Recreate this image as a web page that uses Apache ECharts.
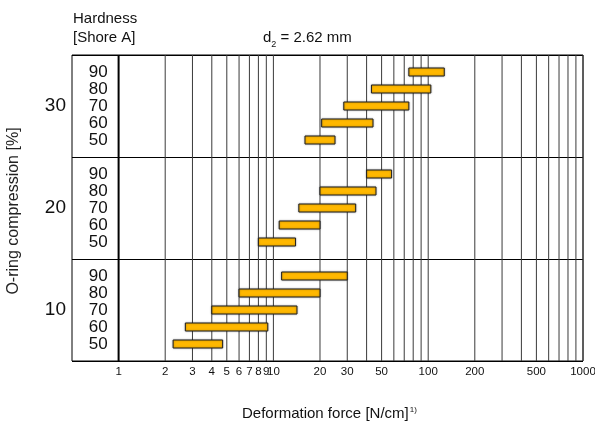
<!DOCTYPE html>
<html>
<head>
<meta charset="utf-8">
<script src="https://cdn.jsdelivr.net/npm/echarts@6/dist/echarts.min.js"></script>
<style>
  html, body { margin: 0; padding: 0; background: #fff; }
  #chart { width: 595px; height: 422px; }
</style>
</head>
<body>
<div id="chart"></div>
<script>
// O-ring compression bands (bottom to top) and hardness rows (bottom to top)
var compression = [10, 20, 30];
var hardness = [50, 60, 70, 80, 90];

// deformation force ranges [N/cm], one entry per hardness 50..90
var force10Lo = [2.25, 2.7, 4.0, 6.0, 11.3];
var force10Hi = [4.7, 9.2, 14.2, 20, 30];
var force20Lo = [8.0, 10.9, 14.6, 20, 40];
var force20Hi = [13.9, 20, 34, 46, 58];
var force30Lo = [16, 20.5, 28.5, 43, 75];
var force30Hi = [25, 44, 75, 104, 127];

// log grid lines and the ones that carry a label
var gridValues = [1, 2, 3, 4, 5, 6, 7, 8, 9, 10, 20, 30, 40, 50, 60, 70, 80, 90, 100,
    200, 300, 400, 500, 600, 700, 800, 900, 1000];
var tickLabels = [1, 2, 3, 4, 5, 6, 7, 8, 9, 10, 20, 30, 50, 100, 200, 500, 1000];

var FONT = '"Liberation Sans", Arial, Helvetica, sans-serif';
var ROWS = 6; // each band: 5 hardness rows + spacing

var lows = [force10Lo, force20Lo, force30Lo];
var highs = [force10Hi, force20Hi, force30Hi];

// bars: [lo, hi, yPos]
var barData = [];
var rowLabelData = [];
for (var b = 0; b < compression.length; b++) {
    for (var h = 0; h < hardness.length; h++) {
        var yPos = b * ROWS + h + 1;
        barData.push([lows[b][h], highs[b][h], yPos]);
        rowLabelData.push([1, yPos, hardness[h]]);
    }
}

var chart = echarts.init(document.getElementById('chart'));

var option = {
    animation: false,
    textStyle: { fontFamily: FONT },
    grid: {
        left: 72, right: 12, top: 55, bottom: 61,
        show: true, borderColor: '#000', borderWidth: 1, backgroundColor: 'transparent'
    },
    xAxis: {
        type: 'log',
        min: 0.5,
        max: 1000,
        axisLine: { show: false },
        axisTick: { show: false },
        axisLabel: { show: false },
        splitLine: { show: false }
    },
    yAxis: {
        type: 'value',
        min: 0,
        max: compression.length * ROWS,
        interval: ROWS,
        axisLine: { show: false },
        axisTick: { show: false },
        splitLine: { show: true, lineStyle: { color: '#000', width: 1 } },
        axisLabel: {
            customValues: compression.map(function (c, i) { return i * ROWS + ROWS / 2; }),
            formatter: function (v) { return compression[Math.floor(v / ROWS)]; },
            fontSize: 19, color: '#111', margin: 6, fontFamily: FONT
        }
    },
    graphic: [
        {
            type: 'text', left: 73, top: 11,
            style: { text: 'Hardness', font: '15px ' + FONT, fill: '#111' }
        },
        {
            type: 'text', left: 73, top: 30,
            style: { text: '[Shore A]', font: '15px ' + FONT, fill: '#111' }
        },
        {
            type: 'text', left: 263, top: 30,
            style: {
                text: '{n|d}{s|2}{n| = 2.62 mm}',
                fill: '#111',
                rich: {
                    n: { fontSize: 15, fontFamily: FONT, fill: '#111', verticalAlign: 'bottom' },
                    s: { fontSize: 9, fontFamily: FONT, fill: '#111', verticalAlign: 'bottom', padding: [0, 0, -4, 0] }
                }
            }
        },
        {
            type: 'text', x: 14, y: 211, rotation: Math.PI / 2,
            style: {
                text: 'O-ring compression [%]', font: '16px ' + FONT, fill: '#222',
                align: 'center', verticalAlign: 'middle'
            }
        },
        {
            type: 'text', left: 242, top: 406,
            style: {
                text: '{n|Deformation force [N/cm]}{s|1)}',
                rich: {
                    n: { fontSize: 15, fontFamily: FONT, fill: '#111', verticalAlign: 'bottom' },
                    s: { fontSize: 8, fontFamily: FONT, fill: '#111', verticalAlign: 'top', padding: [0, 0, 6, 1] }
                }
            }
        }
    ],
    series: [
        {
            // vertical log grid lines
            type: 'custom',
            z: 1,
            silent: true,
            data: gridValues.map(function (v) { return [v, 0]; }),
            renderItem: function (params, api) {
                var v = api.value(0);
                var top = api.coord([v, compression.length * ROWS]);
                var bot = api.coord([v, 0]);
                var major = v === 1;
                return {
                    type: 'line',
                    shape: { x1: top[0], y1: top[1], x2: bot[0], y2: bot[1] },
                    style: { stroke: major ? '#000' : '#3a3a3a', lineWidth: major ? 2 : 1 }
                };
            }
        },
        {
            // x tick labels
            type: 'custom',
            z: 3,
            silent: true,
            data: tickLabels.map(function (v) { return [v, 0]; }),
            renderItem: function (params, api) {
                var p = api.coord([api.value(0), 0]);
                return {
                    type: 'text',
                    x: p[0], y: p[1] + 11,
                    style: {
                        text: String(api.value(0)), font: '11.5px ' + FONT, fill: '#111',
                        align: 'center', verticalAlign: 'middle'
                    }
                };
            }
        },
        {
            // hardness row labels inside the left column
            type: 'custom',
            z: 3,
            silent: true,
            data: rowLabelData,
            renderItem: function (params, api) {
                var p = api.coord([api.value(0), api.value(1)]);
                return {
                    type: 'text',
                    x: p[0] - 11, y: p[1],
                    style: {
                        text: String(api.value(2)), font: '17px ' + FONT, fill: '#111',
                        align: 'right', verticalAlign: 'middle'
                    }
                };
            }
        },
        {
            // force range bars
            type: 'custom',
            z: 5,
            data: barData,
            encode: { x: [0, 1], y: 2 },
            renderItem: function (params, api) {
                var y = api.value(2);
                var p0 = api.coord([api.value(0), y]);
                var p1 = api.coord([api.value(1), y]);
                return {
                    type: 'rect',
                    shape: { x: p0[0], y: p0[1] - 4, width: p1[0] - p0[0], height: 8 },
                    style: {
                        fill: '#FFB800', stroke: '#222', lineWidth: 1,
                        shadowBlur: 2, shadowColor: 'rgba(0,0,0,0.35)'
                    }
                };
            }
        }
    ]
};

chart.setOption(option);
</script>
</body>
</html>
